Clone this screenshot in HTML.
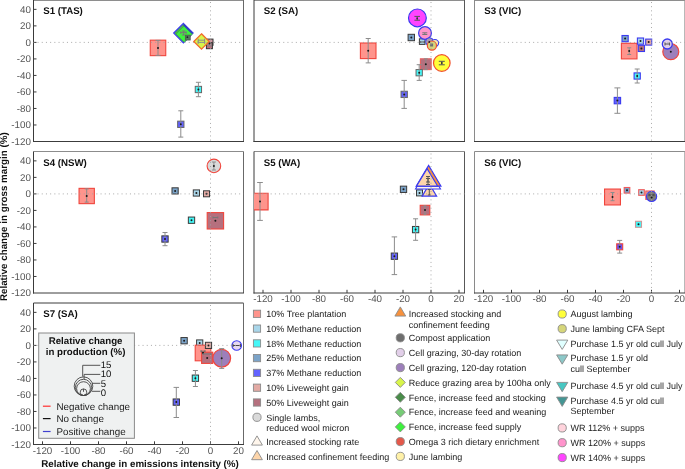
<!DOCTYPE html>
<html><head><meta charset="utf-8"><style>
html,body{margin:0;padding:0;background:#fff;}
body{width:685px;height:469px;overflow:hidden;}
svg{display:block;will-change:transform;}
text{font-family:"Liberation Sans",sans-serif;text-rendering:geometricPrecision;}
.tk{font-size:9.8px;fill:#555555;}
.ttl{font-size:9.7px;font-weight:bold;fill:#111;}
.lg{font-size:9px;fill:#222;}
.lgt{font-size:9.7px;font-weight:bold;fill:#111;}
.lgs{font-size:9.6px;fill:#111;}
.lgl{font-size:9.8px;fill:#222;}
.axl{font-size:9.8px;font-weight:bold;fill:#111;}
</style></head><body>
<svg width="685" height="469" viewBox="0 0 685 469">
<rect x="0" y="0" width="685" height="469" fill="#fff"/>
<line x1="33.50" y1="0.50" x2="243.50" y2="0.50" stroke="#8e8e8e" stroke-width="1"/>
<line x1="243.50" y1="0.00" x2="243.50" y2="141.50" stroke="#686868" stroke-width="1"/>
<line x1="33.50" y1="0.00" x2="33.50" y2="142.00" stroke="#3a3a3a" stroke-width="1"/>
<line x1="33.00" y1="141.50" x2="244.00" y2="141.50" stroke="#3c3c3c" stroke-width="1"/>
<line x1="33.50" y1="9.37" x2="36.50" y2="9.37" stroke="#3c3c3c" stroke-width="1"/>
<text x="30.90" y="12.57" class="tk" text-anchor="end">40</text>
<line x1="33.50" y1="25.88" x2="36.50" y2="25.88" stroke="#3c3c3c" stroke-width="1"/>
<text x="30.90" y="29.08" class="tk" text-anchor="end">20</text>
<line x1="33.50" y1="42.40" x2="36.50" y2="42.40" stroke="#3c3c3c" stroke-width="1"/>
<text x="30.90" y="45.60" class="tk" text-anchor="end">0</text>
<line x1="33.50" y1="58.92" x2="36.50" y2="58.92" stroke="#3c3c3c" stroke-width="1"/>
<text x="30.90" y="62.12" class="tk" text-anchor="end">-20</text>
<line x1="33.50" y1="75.43" x2="36.50" y2="75.43" stroke="#3c3c3c" stroke-width="1"/>
<text x="30.90" y="78.63" class="tk" text-anchor="end">-40</text>
<line x1="33.50" y1="91.95" x2="36.50" y2="91.95" stroke="#3c3c3c" stroke-width="1"/>
<text x="30.90" y="95.15" class="tk" text-anchor="end">-60</text>
<line x1="33.50" y1="108.46" x2="36.50" y2="108.46" stroke="#3c3c3c" stroke-width="1"/>
<text x="30.90" y="111.66" class="tk" text-anchor="end">-80</text>
<line x1="33.50" y1="124.98" x2="36.50" y2="124.98" stroke="#3c3c3c" stroke-width="1"/>
<text x="30.90" y="128.18" class="tk" text-anchor="end">-100</text>
<text x="30.90" y="144.70" class="tk" text-anchor="end">-120</text>
<text x="43.20" y="13.80" class="ttl">S1 (TAS)</text>
<line x1="254.00" y1="0.50" x2="464.50" y2="0.50" stroke="#8e8e8e" stroke-width="1"/>
<line x1="464.50" y1="0.00" x2="464.50" y2="141.50" stroke="#585858" stroke-width="1"/>
<line x1="254.00" y1="0.00" x2="254.00" y2="142.00" stroke="#3a3a3a" stroke-width="1"/>
<line x1="253.50" y1="141.50" x2="465.00" y2="141.50" stroke="#3c3c3c" stroke-width="1"/>
<text x="263.70" y="13.80" class="ttl">S2 (SA)</text>
<line x1="474.50" y1="0.50" x2="684.90" y2="0.50" stroke="#8e8e8e" stroke-width="1"/>
<line x1="684.90" y1="0.00" x2="684.90" y2="141.50" stroke="#8a8a8a" stroke-width="1"/>
<line x1="474.50" y1="0.00" x2="474.50" y2="142.00" stroke="#8a8a8a" stroke-width="1"/>
<line x1="474.00" y1="141.50" x2="685.40" y2="141.50" stroke="#3c3c3c" stroke-width="1"/>
<text x="484.20" y="13.80" class="ttl">S3 (VIC)</text>
<line x1="33.50" y1="151.50" x2="243.50" y2="151.50" stroke="#8c8c8c" stroke-width="1"/>
<line x1="243.50" y1="151.50" x2="243.50" y2="293.00" stroke="#686868" stroke-width="1"/>
<line x1="33.50" y1="151.50" x2="33.50" y2="293.50" stroke="#3a3a3a" stroke-width="1"/>
<line x1="33.00" y1="293.00" x2="244.00" y2="293.00" stroke="#3c3c3c" stroke-width="1"/>
<line x1="33.50" y1="160.87" x2="36.50" y2="160.87" stroke="#3c3c3c" stroke-width="1"/>
<text x="30.90" y="164.07" class="tk" text-anchor="end">40</text>
<line x1="33.50" y1="177.38" x2="36.50" y2="177.38" stroke="#3c3c3c" stroke-width="1"/>
<text x="30.90" y="180.58" class="tk" text-anchor="end">20</text>
<line x1="33.50" y1="193.90" x2="36.50" y2="193.90" stroke="#3c3c3c" stroke-width="1"/>
<text x="30.90" y="197.10" class="tk" text-anchor="end">0</text>
<line x1="33.50" y1="210.42" x2="36.50" y2="210.42" stroke="#3c3c3c" stroke-width="1"/>
<text x="30.90" y="213.62" class="tk" text-anchor="end">-20</text>
<line x1="33.50" y1="226.93" x2="36.50" y2="226.93" stroke="#3c3c3c" stroke-width="1"/>
<text x="30.90" y="230.13" class="tk" text-anchor="end">-40</text>
<line x1="33.50" y1="243.45" x2="36.50" y2="243.45" stroke="#3c3c3c" stroke-width="1"/>
<text x="30.90" y="246.65" class="tk" text-anchor="end">-60</text>
<line x1="33.50" y1="259.96" x2="36.50" y2="259.96" stroke="#3c3c3c" stroke-width="1"/>
<text x="30.90" y="263.16" class="tk" text-anchor="end">-80</text>
<line x1="33.50" y1="276.48" x2="36.50" y2="276.48" stroke="#3c3c3c" stroke-width="1"/>
<text x="30.90" y="279.68" class="tk" text-anchor="end">-100</text>
<text x="30.90" y="296.20" class="tk" text-anchor="end">-120</text>
<text x="43.20" y="165.70" class="ttl">S4 (NSW)</text>
<line x1="254.00" y1="151.50" x2="464.50" y2="151.50" stroke="#8c8c8c" stroke-width="1"/>
<line x1="464.50" y1="151.50" x2="464.50" y2="293.00" stroke="#585858" stroke-width="1"/>
<line x1="254.00" y1="151.50" x2="254.00" y2="293.50" stroke="#3a3a3a" stroke-width="1"/>
<line x1="253.50" y1="293.00" x2="465.00" y2="293.00" stroke="#3c3c3c" stroke-width="1"/>
<line x1="263.00" y1="293.00" x2="263.00" y2="289.80" stroke="#3c3c3c" stroke-width="1"/>
<text x="263.00" y="302.00" class="tk" text-anchor="middle">-120</text>
<line x1="291.00" y1="293.00" x2="291.00" y2="289.80" stroke="#3c3c3c" stroke-width="1"/>
<text x="291.00" y="302.00" class="tk" text-anchor="middle">-100</text>
<line x1="319.00" y1="293.00" x2="319.00" y2="289.80" stroke="#3c3c3c" stroke-width="1"/>
<text x="319.00" y="302.00" class="tk" text-anchor="middle">-80</text>
<line x1="347.00" y1="293.00" x2="347.00" y2="289.80" stroke="#3c3c3c" stroke-width="1"/>
<text x="347.00" y="302.00" class="tk" text-anchor="middle">-60</text>
<line x1="375.00" y1="293.00" x2="375.00" y2="289.80" stroke="#3c3c3c" stroke-width="1"/>
<text x="375.00" y="302.00" class="tk" text-anchor="middle">-40</text>
<line x1="403.00" y1="293.00" x2="403.00" y2="289.80" stroke="#3c3c3c" stroke-width="1"/>
<text x="403.00" y="302.00" class="tk" text-anchor="middle">-20</text>
<line x1="431.00" y1="293.00" x2="431.00" y2="289.80" stroke="#3c3c3c" stroke-width="1"/>
<text x="431.00" y="302.00" class="tk" text-anchor="middle">0</text>
<line x1="459.00" y1="293.00" x2="459.00" y2="289.80" stroke="#3c3c3c" stroke-width="1"/>
<text x="459.00" y="302.00" class="tk" text-anchor="middle">20</text>
<text x="263.70" y="165.70" class="ttl">S5 (WA)</text>
<line x1="474.50" y1="151.50" x2="684.90" y2="151.50" stroke="#8c8c8c" stroke-width="1"/>
<line x1="684.90" y1="151.50" x2="684.90" y2="293.00" stroke="#8a8a8a" stroke-width="1"/>
<line x1="474.50" y1="151.50" x2="474.50" y2="293.50" stroke="#8a8a8a" stroke-width="1"/>
<line x1="474.00" y1="293.00" x2="685.40" y2="293.00" stroke="#3c3c3c" stroke-width="1"/>
<line x1="483.50" y1="293.00" x2="483.50" y2="289.80" stroke="#3c3c3c" stroke-width="1"/>
<text x="483.50" y="302.00" class="tk" text-anchor="middle">-120</text>
<line x1="511.50" y1="293.00" x2="511.50" y2="289.80" stroke="#3c3c3c" stroke-width="1"/>
<text x="511.50" y="302.00" class="tk" text-anchor="middle">-100</text>
<line x1="539.50" y1="293.00" x2="539.50" y2="289.80" stroke="#3c3c3c" stroke-width="1"/>
<text x="539.50" y="302.00" class="tk" text-anchor="middle">-80</text>
<line x1="567.50" y1="293.00" x2="567.50" y2="289.80" stroke="#3c3c3c" stroke-width="1"/>
<text x="567.50" y="302.00" class="tk" text-anchor="middle">-60</text>
<line x1="595.50" y1="293.00" x2="595.50" y2="289.80" stroke="#3c3c3c" stroke-width="1"/>
<text x="595.50" y="302.00" class="tk" text-anchor="middle">-40</text>
<line x1="623.50" y1="293.00" x2="623.50" y2="289.80" stroke="#3c3c3c" stroke-width="1"/>
<text x="623.50" y="302.00" class="tk" text-anchor="middle">-20</text>
<line x1="651.50" y1="293.00" x2="651.50" y2="289.80" stroke="#3c3c3c" stroke-width="1"/>
<text x="651.50" y="302.00" class="tk" text-anchor="middle">0</text>
<line x1="679.50" y1="293.00" x2="679.50" y2="289.80" stroke="#3c3c3c" stroke-width="1"/>
<text x="679.50" y="302.00" class="tk" text-anchor="middle">20</text>
<text x="484.20" y="165.70" class="ttl">S6 (VIC)</text>
<line x1="33.50" y1="303.00" x2="243.50" y2="303.00" stroke="#3c3c3c" stroke-width="1"/>
<line x1="243.50" y1="303.00" x2="243.50" y2="444.50" stroke="#686868" stroke-width="1"/>
<line x1="33.50" y1="303.00" x2="33.50" y2="445.00" stroke="#3a3a3a" stroke-width="1"/>
<line x1="33.00" y1="444.50" x2="244.00" y2="444.50" stroke="#3c3c3c" stroke-width="1"/>
<line x1="33.50" y1="312.37" x2="36.50" y2="312.37" stroke="#3c3c3c" stroke-width="1"/>
<text x="30.90" y="315.57" class="tk" text-anchor="end">40</text>
<line x1="33.50" y1="328.88" x2="36.50" y2="328.88" stroke="#3c3c3c" stroke-width="1"/>
<text x="30.90" y="332.08" class="tk" text-anchor="end">20</text>
<line x1="33.50" y1="345.40" x2="36.50" y2="345.40" stroke="#3c3c3c" stroke-width="1"/>
<text x="30.90" y="348.60" class="tk" text-anchor="end">0</text>
<line x1="33.50" y1="361.92" x2="36.50" y2="361.92" stroke="#3c3c3c" stroke-width="1"/>
<text x="30.90" y="365.12" class="tk" text-anchor="end">-20</text>
<line x1="33.50" y1="378.43" x2="36.50" y2="378.43" stroke="#3c3c3c" stroke-width="1"/>
<text x="30.90" y="381.63" class="tk" text-anchor="end">-40</text>
<line x1="33.50" y1="394.95" x2="36.50" y2="394.95" stroke="#3c3c3c" stroke-width="1"/>
<text x="30.90" y="398.15" class="tk" text-anchor="end">-60</text>
<line x1="33.50" y1="411.46" x2="36.50" y2="411.46" stroke="#3c3c3c" stroke-width="1"/>
<text x="30.90" y="414.66" class="tk" text-anchor="end">-80</text>
<line x1="33.50" y1="427.98" x2="36.50" y2="427.98" stroke="#3c3c3c" stroke-width="1"/>
<text x="30.90" y="431.18" class="tk" text-anchor="end">-100</text>
<text x="30.90" y="447.70" class="tk" text-anchor="end">-120</text>
<line x1="42.50" y1="444.50" x2="42.50" y2="441.30" stroke="#3c3c3c" stroke-width="1"/>
<text x="42.50" y="453.50" class="tk" text-anchor="middle">-120</text>
<line x1="70.50" y1="444.50" x2="70.50" y2="441.30" stroke="#3c3c3c" stroke-width="1"/>
<text x="70.50" y="453.50" class="tk" text-anchor="middle">-100</text>
<line x1="98.50" y1="444.50" x2="98.50" y2="441.30" stroke="#3c3c3c" stroke-width="1"/>
<text x="98.50" y="453.50" class="tk" text-anchor="middle">-80</text>
<line x1="126.50" y1="444.50" x2="126.50" y2="441.30" stroke="#3c3c3c" stroke-width="1"/>
<text x="126.50" y="453.50" class="tk" text-anchor="middle">-60</text>
<line x1="154.50" y1="444.50" x2="154.50" y2="441.30" stroke="#3c3c3c" stroke-width="1"/>
<text x="154.50" y="453.50" class="tk" text-anchor="middle">-40</text>
<line x1="182.50" y1="444.50" x2="182.50" y2="441.30" stroke="#3c3c3c" stroke-width="1"/>
<text x="182.50" y="453.50" class="tk" text-anchor="middle">-20</text>
<line x1="210.50" y1="444.50" x2="210.50" y2="441.30" stroke="#3c3c3c" stroke-width="1"/>
<text x="210.50" y="453.50" class="tk" text-anchor="middle">0</text>
<line x1="238.50" y1="444.50" x2="238.50" y2="441.30" stroke="#3c3c3c" stroke-width="1"/>
<text x="238.50" y="453.50" class="tk" text-anchor="middle">20</text>
<text x="43.20" y="316.80" class="ttl">S7 (SA)</text>
<rect x="150.25" y="40.15" width="15.50" height="15.50" fill="#ff948c" stroke="#f0453c" stroke-width="1.1"/>
<path d="M183.40 23.40L193.10 33.10L183.40 42.80L173.70 33.10Z" fill="#4cb04c" stroke="#3a3af0" stroke-width="1.2"/>
<path d="M184.30 25.80L192.50 34.00L184.30 42.20L176.10 34.00Z" fill="#3ef03e" stroke="#3a9a4a" stroke-width="0.6"/>
<path d="M183.6 24.6L192.2 33.2" stroke="#2f3fc0" stroke-width="1.6" fill="none"/>
<rect x="185.40" y="35.20" width="4.80" height="4.80" fill="#4f7f5f" stroke="#555" stroke-width="0.9"/>
<rect x="206.80" y="39.10" width="6.20" height="6.20" fill="#d39aa4" stroke="#333" stroke-width="1.0"/>
<rect x="206.40" y="42.70" width="6.00" height="6.00" fill="#9a7a82" stroke="#333" stroke-width="1.0"/>
<path d="M207.2 47.6H211.6" stroke="#e06070" stroke-width="0.8"/>
<path d="M201.50 33.80L209.20 41.50L201.50 49.20L193.80 41.50Z" fill="#d8f54a" stroke="#f26a2c" stroke-width="1.3"/>
<rect x="195.25" y="86.35" width="6.30" height="6.30" fill="#45f7f7" stroke="#666" stroke-width="1.0"/>
<rect x="177.65" y="121.15" width="6.30" height="6.30" fill="#6262ff" stroke="#666" stroke-width="1.0"/>
<rect x="360.40" y="43.00" width="15.60" height="15.60" fill="#ff948c" stroke="#f0453c" stroke-width="1.1"/>
<circle cx="417.40" cy="17.90" r="8.90" fill="#ff44ff" stroke="#3a3af0" stroke-width="1.2"/>
<rect x="408.10" y="34.30" width="6.40" height="6.40" fill="#7ba3c8" stroke="#3a3a3a" stroke-width="1.0"/>
<rect x="419.40" y="38.80" width="5.60" height="5.60" fill="#a9d6ea" stroke="#3a3a3a" stroke-width="1.0"/>
<circle cx="425.00" cy="33.00" r="6.40" fill="#ff94cc" stroke="#3a3af0" stroke-width="1.2"/>
<circle cx="429.50" cy="41.60" r="3.90" fill="#a898b0" stroke="#3a3af0" stroke-width="1.0"/>
<circle cx="435.00" cy="43.10" r="3.60" fill="#fff1a8" stroke="#3a3af0" stroke-width="1.1"/>
<circle cx="431.90" cy="45.60" r="4.60" fill="#d6d67a" stroke="#f0502c" stroke-width="1.2"/>
<rect x="430.10" y="43.50" width="3.00" height="3.00" fill="#6f6f6f" stroke="none" stroke-width="0"/>
<rect x="420.40" y="58.80" width="10.80" height="10.80" fill="#b5707e" stroke="#e86060" stroke-width="1.1"/>
<circle cx="441.80" cy="63.00" r="8.30" fill="#ffff3a" stroke="#f0502c" stroke-width="1.2"/>
<rect x="416.05" y="69.55" width="6.30" height="6.30" fill="#45f7f7" stroke="#666" stroke-width="1.0"/>
<rect x="401.05" y="91.25" width="6.30" height="6.30" fill="#6262ff" stroke="#666" stroke-width="1.0"/>
<rect x="621.40" y="43.30" width="15.60" height="15.60" fill="#ff948c" stroke="#f0453c" stroke-width="1.1"/>
<rect x="622.00" y="35.50" width="6.20" height="6.20" fill="#7ba3c8" stroke="#3a3af0" stroke-width="1.1"/>
<rect x="637.40" y="38.00" width="6.20" height="6.20" fill="#a9d6ea" stroke="#3a3af0" stroke-width="1.1"/>
<rect x="645.70" y="39.10" width="6.00" height="6.00" fill="#e3aaa4" stroke="#3a3af0" stroke-width="1.1"/>
<rect x="638.30" y="45.30" width="6.20" height="6.20" fill="#b5707e" stroke="#3a3af0" stroke-width="1.1"/>
<circle cx="670.80" cy="51.70" r="8.00" fill="#9d7fbb" stroke="#f0453c" stroke-width="1.2"/>
<circle cx="667.30" cy="44.00" r="5.00" fill="#e2cfe9" stroke="#3a3af0" stroke-width="1.3"/>
<rect x="634.10" y="72.90" width="6.20" height="6.20" fill="#45f7f7" stroke="#3a3af0" stroke-width="1.1"/>
<rect x="614.20" y="97.40" width="6.40" height="6.40" fill="#6262ff" stroke="#3a3af0" stroke-width="1.1"/>
<rect x="79.05" y="188.35" width="15.30" height="15.30" fill="#ff948c" stroke="#f0453c" stroke-width="1.1"/>
<circle cx="213.90" cy="165.90" r="6.80" fill="#d9d9d9" stroke="#f0453c" stroke-width="1.1"/>
<rect x="172.00" y="187.80" width="6.20" height="6.20" fill="#7ba3c8" stroke="#3a3a3a" stroke-width="1.0"/>
<rect x="193.30" y="189.90" width="6.20" height="6.20" fill="#a9d6ea" stroke="#3a3a3a" stroke-width="1.0"/>
<rect x="203.50" y="190.80" width="6.00" height="6.00" fill="#e3aaa4" stroke="#3a3a3a" stroke-width="1.0"/>
<rect x="188.35" y="217.05" width="6.30" height="6.30" fill="#45f7f7" stroke="#3a3a3a" stroke-width="1.0"/>
<rect x="207.20" y="212.60" width="16.40" height="16.40" fill="#b5707e" stroke="#f0453c" stroke-width="1.1"/>
<rect x="161.85" y="235.85" width="6.30" height="6.30" fill="#6262ff" stroke="#3a3a3a" stroke-width="1.0"/>
<rect x="254.0" y="193.3" width="14.1" height="16.6" fill="#ff948c"/>
<path d="M254.0 193.3H268.1V209.9H254.0" fill="none" stroke="#f0453c" stroke-width="1.1"/>
<rect x="400.35" y="186.15" width="6.30" height="6.30" fill="#7ba3c8" stroke="#3a3a3a" stroke-width="1.0"/>
<rect x="416.50" y="189.90" width="6.00" height="6.00" fill="#a9d6ea" stroke="#3a3a3a" stroke-width="1.0"/>
<path d="M429.40 184.00L436.60 196.10L422.20 196.10Z" fill="#fdd5aa" stroke="#3a3af0" stroke-width="1.2"/>
<path d="M428.00 168.00L440.50 189.00L415.50 189.00Z" fill="#fff6ec" stroke="#3a3af0" stroke-width="1.1"/>
<path d="M428.60 165.40L441.00 186.10L416.20 186.10Z" fill="#f7913d" stroke="#3a3af0" stroke-width="1.1"/>
<path d="M427.10 168.60L437.70 186.10L416.50 186.10Z" fill="#fdd5aa" stroke="#3a3af0" stroke-width="1.1"/>
<rect x="420.20" y="205.30" width="9.60" height="9.60" fill="#b5707e" stroke="#f0453c" stroke-width="1.1"/>
<rect x="412.45" y="226.45" width="6.30" height="6.30" fill="#45f7f7" stroke="#3a3a3a" stroke-width="1.0"/>
<rect x="391.25" y="253.05" width="6.30" height="6.30" fill="#6262ff" stroke="#3a3a3a" stroke-width="1.0"/>
<rect x="604.55" y="189.05" width="15.90" height="15.90" fill="#ff948c" stroke="#f0453c" stroke-width="1.1"/>
<rect x="624.20" y="187.50" width="5.60" height="5.60" fill="#7ba3c8" stroke="#f05a5a" stroke-width="1.1"/>
<rect x="638.70" y="189.70" width="5.60" height="5.60" fill="#a9d6ea" stroke="#f05a5a" stroke-width="1.1"/>
<rect x="645.80" y="191.00" width="8.40" height="8.40" fill="#e3aaa4" stroke="#f05a5a" stroke-width="1.1"/>
<circle cx="651.60" cy="196.40" r="5.10" fill="#7d7d7d" stroke="#3a3af0" stroke-width="1.1"/>
<rect x="635.50" y="221.30" width="6.00" height="6.00" fill="#45f7f7" stroke="#cc9999" stroke-width="1.1"/>
<rect x="616.70" y="243.80" width="6.00" height="6.00" fill="#6a50f0" stroke="#f0453c" stroke-width="1.1"/>
<rect x="180.95" y="337.55" width="6.30" height="6.30" fill="#7ba3c8" stroke="#3a3a3a" stroke-width="1.0"/>
<rect x="196.60" y="339.90" width="6.20" height="6.20" fill="#a9d6ea" stroke="#3a3a3a" stroke-width="1.0"/>
<rect x="195.20" y="345.20" width="15.60" height="15.60" fill="#ff948c" stroke="#f0453c" stroke-width="1.1"/>
<rect x="205.40" y="342.30" width="6.20" height="6.20" fill="#e3aaa4" stroke="#3a3a3a" stroke-width="1.0"/>
<rect x="201.60" y="352.20" width="11.20" height="11.20" fill="#b5707e" stroke="#f0453c" stroke-width="1.1"/>
<circle cx="221.70" cy="358.20" r="8.90" fill="#9d7fbb" stroke="#f0453c" stroke-width="1.2"/>
<circle cx="236.70" cy="345.50" r="4.80" fill="#e6d8ef" stroke="#3a3af0" stroke-width="1.1"/>
<rect x="192.25" y="375.05" width="6.30" height="6.30" fill="#45f7f7" stroke="#3a3a3a" stroke-width="1.0"/>
<rect x="173.15" y="398.95" width="6.30" height="6.30" fill="#6262ff" stroke="#3a3a3a" stroke-width="1.0"/>
<path d="M158.00 40.40V55.40M155.50 40.40h5.00M155.50 55.40h5.00" stroke="#8c8c8c" stroke-width="1.0" fill="none"/>
<circle cx="158.00" cy="48.00" r="1.0" fill="#1a1a1a"/>
<path d="M180.80 32.60H186.20M180.80 31.35v2.50M186.20 31.35v2.50" stroke="#777" stroke-width="1.0" fill="none"/>
<path d="M183.60 31.00V35.00M181.85 31.00h3.50M181.85 35.00h3.50" stroke="#777" stroke-width="1.0" fill="none"/>
<circle cx="187.40" cy="37.20" r="0.9" fill="#222"/>
<circle cx="209.60" cy="43.60" r="0.9" fill="#222"/>
<path d="M198.20 40.20H204.60M198.20 38.70v3.00M204.60 38.70v3.00" stroke="#8c8c8c" stroke-width="1.0" fill="none"/>
<path d="M198.20 42.40H204.60M198.20 40.90v3.00M204.60 40.90v3.00" stroke="#8c8c8c" stroke-width="1.0" fill="none"/>
<path d="M198.40 82.30V96.70M195.90 82.30h5.00M195.90 96.70h5.00" stroke="#8c8c8c" stroke-width="1.0" fill="none"/>
<circle cx="198.40" cy="89.50" r="1.0" fill="#1a1a1a"/>
<path d="M180.80 110.80V137.10M178.30 110.80h5.00M178.30 137.10h5.00" stroke="#8c8c8c" stroke-width="1.0" fill="none"/>
<circle cx="180.80" cy="124.30" r="1.0" fill="#1a1a1a"/>
<path d="M368.20 38.50V62.90M365.70 38.50h5.00M365.70 62.90h5.00" stroke="#8c8c8c" stroke-width="1.0" fill="none"/>
<circle cx="368.20" cy="50.80" r="1.0" fill="#1a1a1a"/>
<path d="M417.20 16.40V20.20M414.40 16.40h5.60M414.40 20.20h5.60" stroke="#555" stroke-width="1.0" fill="none"/>
<circle cx="417.20" cy="18.30" r="0.9" fill="#333"/>
<circle cx="411.30" cy="37.50" r="1.0" fill="#1a1a1a"/>
<path d="M420.00 42.00H424.40M420.00 41.00v2.00M424.40 41.00v2.00" stroke="#555" stroke-width="1.0" fill="none"/>
<path d="M424.80 32.80V34.50M422.30 32.80h5.00M422.30 34.50h5.00" stroke="#777" stroke-width="1.0" fill="none"/>
<circle cx="429.30" cy="42.00" r="0.9" fill="#222"/>
<path d="M425.80 58.80V69.60M423.80 58.80h4.00M423.80 69.60h4.00" stroke="#8c8c8c" stroke-width="1.0" fill="none"/>
<circle cx="425.80" cy="64.30" r="1.0" fill="#1a1a1a"/>
<path d="M441.80 61.30V64.80M438.80 61.30h6.00M438.80 64.80h6.00" stroke="#555" stroke-width="1.0" fill="none"/>
<circle cx="441.80" cy="63.00" r="0.9" fill="#333"/>
<path d="M419.20 64.70V80.40M416.70 64.70h5.00M416.70 80.40h5.00" stroke="#8c8c8c" stroke-width="1.0" fill="none"/>
<circle cx="419.20" cy="72.70" r="1.0" fill="#1a1a1a"/>
<path d="M404.20 80.40V108.40M401.45 80.40h5.50M401.45 108.40h5.50" stroke="#8c8c8c" stroke-width="1.0" fill="none"/>
<circle cx="404.20" cy="94.40" r="1.0" fill="#1a1a1a"/>
<path d="M629.20 47.80V54.50M627.20 47.80h4.00M627.20 54.50h4.00" stroke="#8c8c8c" stroke-width="1.0" fill="none"/>
<circle cx="629.20" cy="51.10" r="1.0" fill="#1a1a1a"/>
<circle cx="625.10" cy="38.60" r="1.0" fill="#1a1a1a"/>
<circle cx="640.50" cy="41.10" r="1.0" fill="#1a1a1a"/>
<circle cx="648.70" cy="42.10" r="1.0" fill="#1a1a1a"/>
<circle cx="641.40" cy="48.40" r="1.0" fill="#1a1a1a"/>
<circle cx="670.80" cy="51.70" r="1.0" fill="#1a1a1a"/>
<path d="M665.00 44.00H669.60M665.00 42.50v3.00M669.60 42.50v3.00" stroke="#555" stroke-width="1.0" fill="none"/>
<path d="M637.20 69.00V83.00M634.70 69.00h5.00M634.70 83.00h5.00" stroke="#8c8c8c" stroke-width="1.0" fill="none"/>
<circle cx="637.20" cy="76.00" r="1.0" fill="#1a1a1a"/>
<path d="M617.40 87.90V113.30M614.40 87.90h6.00M614.40 113.30h6.00" stroke="#8c8c8c" stroke-width="1.0" fill="none"/>
<circle cx="617.40" cy="100.60" r="1.0" fill="#1a1a1a"/>
<path d="M86.70 188.90V202.10M84.70 188.90h4.00M84.70 202.10h4.00" stroke="#8c8c8c" stroke-width="1.0" fill="none"/>
<circle cx="86.70" cy="196.00" r="1.0" fill="#1a1a1a"/>
<path d="M213.90 162.00V170.00M211.90 162.00h4.00M211.90 170.00h4.00" stroke="#8c8c8c" stroke-width="1.0" fill="none"/>
<circle cx="213.90" cy="166.00" r="1.0" fill="#1a1a1a"/>
<circle cx="175.10" cy="190.90" r="1.0" fill="#1a1a1a"/>
<circle cx="196.40" cy="193.00" r="1.0" fill="#1a1a1a"/>
<circle cx="206.50" cy="193.80" r="1.0" fill="#1a1a1a"/>
<circle cx="191.50" cy="220.20" r="1.0" fill="#1a1a1a"/>
<path d="M213.00 217.50H217.80M213.00 216.50v2.00M217.80 216.50v2.00" stroke="#777" stroke-width="1.0" fill="none"/>
<circle cx="215.40" cy="220.80" r="1.0" fill="#1a1a1a"/>
<path d="M165.00 232.50V245.70M162.50 232.50h5.00M162.50 245.70h5.00" stroke="#8c8c8c" stroke-width="1.0" fill="none"/>
<circle cx="165.00" cy="239.00" r="1.0" fill="#1a1a1a"/>
<path d="M260.00 182.50V220.40M257.15 182.50h5.70M257.15 220.40h5.70" stroke="#8c8c8c" stroke-width="1.0" fill="none"/>
<circle cx="260.00" cy="201.60" r="1.0" fill="#1a1a1a"/>
<circle cx="403.50" cy="189.30" r="1.0" fill="#1a1a1a"/>
<circle cx="419.50" cy="192.90" r="1.0" fill="#1a1a1a"/>
<path d="M429.30 189.50V195.00M427.80 189.50h3.00M427.80 195.00h3.00" stroke="#555" stroke-width="1.0" fill="none"/>
<path d="M428.00 176.50V184.50M426.00 176.50h4.00M426.00 184.50h4.00" stroke="#555" stroke-width="1.0" fill="none"/>
<path d="M428.00 178.50V182.00M426.00 178.50h4.00M426.00 182.00h4.00" stroke="#555" stroke-width="1.0" fill="none"/>
<path d="M425.00 205.80V214.40M423.50 205.80h3.00M423.50 214.40h3.00" stroke="#8c8c8c" stroke-width="1.0" fill="none"/>
<circle cx="425.00" cy="210.10" r="1.0" fill="#1a1a1a"/>
<path d="M415.60 218.80V240.30M413.10 218.80h5.00M413.10 240.30h5.00" stroke="#8c8c8c" stroke-width="1.0" fill="none"/>
<circle cx="415.60" cy="229.60" r="1.0" fill="#1a1a1a"/>
<path d="M394.40 236.90V274.60M391.65 236.90h5.50M391.65 274.60h5.50" stroke="#8c8c8c" stroke-width="1.0" fill="none"/>
<circle cx="394.40" cy="256.20" r="1.0" fill="#1a1a1a"/>
<path d="M612.50 192.50V200.70M610.50 192.50h4.00M610.50 200.70h4.00" stroke="#8c8c8c" stroke-width="1.0" fill="none"/>
<circle cx="612.50" cy="197.00" r="1.0" fill="#1a1a1a"/>
<circle cx="627.00" cy="190.30" r="1.0" fill="#1a1a1a"/>
<circle cx="641.50" cy="192.50" r="1.0" fill="#1a1a1a"/>
<path d="M649.00 195.00H654.00M649.00 193.75v2.50M654.00 193.75v2.50" stroke="#444" stroke-width="1.0" fill="none"/>
<circle cx="651.60" cy="197.60" r="1.0" fill="#1a1a1a"/>
<circle cx="638.50" cy="224.30" r="1.0" fill="#1a1a1a"/>
<path d="M619.70 240.40V253.10M617.20 240.40h5.00M617.20 253.10h5.00" stroke="#8c8c8c" stroke-width="1.0" fill="none"/>
<circle cx="619.70" cy="246.80" r="1.0" fill="#1a1a1a"/>
<circle cx="184.10" cy="340.70" r="1.0" fill="#1a1a1a"/>
<circle cx="199.70" cy="343.00" r="1.0" fill="#1a1a1a"/>
<circle cx="203.00" cy="353.00" r="1.0" fill="#1a1a1a"/>
<circle cx="208.50" cy="345.40" r="1.0" fill="#1a1a1a"/>
<path d="M201.00 351.20H205.00M201.00 350.20v2.00M205.00 350.20v2.00" stroke="#666" stroke-width="1.0" fill="none"/>
<circle cx="203.00" cy="353.00" r="1.0" fill="#1a1a1a"/>
<path d="M203.00 354.00H211.00M203.00 353.00v2.00M211.00 353.00v2.00" stroke="#777" stroke-width="1.0" fill="none"/>
<circle cx="207.20" cy="357.90" r="1.0" fill="#1a1a1a"/>
<path d="M221.70 348.60V368.40M219.20 348.60h5.00M219.20 368.40h5.00" stroke="#8c8c8c" stroke-width="1.0" fill="none"/>
<circle cx="221.70" cy="358.20" r="1.0" fill="#1a1a1a"/>
<path d="M233.00 345.50H240.40M233.00 344.00v3.00M240.40 344.00v3.00" stroke="#444" stroke-width="1.0" fill="none"/>
<path d="M195.40 370.50V386.50M192.90 370.50h5.00M192.90 386.50h5.00" stroke="#8c8c8c" stroke-width="1.0" fill="none"/>
<circle cx="195.40" cy="378.20" r="1.0" fill="#1a1a1a"/>
<path d="M176.30 387.40V417.50M173.55 387.40h5.50M173.55 417.50h5.50" stroke="#8c8c8c" stroke-width="1.0" fill="none"/>
<circle cx="176.30" cy="402.10" r="1.0" fill="#1a1a1a"/>
<line x1="33.50" y1="42.40" x2="243.50" y2="42.40" stroke="#a2a2a2" stroke-width="0.9" stroke-dasharray="1 3.2" stroke-dashoffset="0.15"/>
<line x1="210.50" y1="0.00" x2="210.50" y2="141.50" stroke="#a2a2a2" stroke-width="0.9" stroke-dasharray="1 3.17" stroke-dashoffset="2.17"/>
<line x1="254.00" y1="42.40" x2="464.50" y2="42.40" stroke="#a2a2a2" stroke-width="0.9" stroke-dasharray="1 3.2" stroke-dashoffset="0.15"/>
<line x1="431.00" y1="0.00" x2="431.00" y2="141.50" stroke="#a2a2a2" stroke-width="0.9" stroke-dasharray="1 3.17" stroke-dashoffset="2.17"/>
<line x1="474.50" y1="42.40" x2="684.90" y2="42.40" stroke="#a2a2a2" stroke-width="0.9" stroke-dasharray="1 3.2" stroke-dashoffset="0.15"/>
<line x1="651.50" y1="0.00" x2="651.50" y2="141.50" stroke="#a2a2a2" stroke-width="0.9" stroke-dasharray="1 3.17" stroke-dashoffset="2.17"/>
<line x1="33.50" y1="193.90" x2="243.50" y2="193.90" stroke="#a2a2a2" stroke-width="0.9" stroke-dasharray="1 3.2" stroke-dashoffset="0.15"/>
<line x1="210.50" y1="151.50" x2="210.50" y2="293.00" stroke="#a2a2a2" stroke-width="0.9" stroke-dasharray="1 3.17" stroke-dashoffset="2.17"/>
<line x1="254.00" y1="193.90" x2="464.50" y2="193.90" stroke="#a2a2a2" stroke-width="0.9" stroke-dasharray="1 3.2" stroke-dashoffset="0.15"/>
<line x1="431.00" y1="151.50" x2="431.00" y2="293.00" stroke="#a2a2a2" stroke-width="0.9" stroke-dasharray="1 3.17" stroke-dashoffset="2.17"/>
<line x1="474.50" y1="193.90" x2="684.90" y2="193.90" stroke="#a2a2a2" stroke-width="0.9" stroke-dasharray="1 3.2" stroke-dashoffset="0.15"/>
<line x1="651.50" y1="151.50" x2="651.50" y2="293.00" stroke="#a2a2a2" stroke-width="0.9" stroke-dasharray="1 3.17" stroke-dashoffset="2.17"/>
<line x1="33.50" y1="345.40" x2="243.50" y2="345.40" stroke="#a2a2a2" stroke-width="0.9" stroke-dasharray="1 3.2" stroke-dashoffset="0.15"/>
<line x1="210.50" y1="303.00" x2="210.50" y2="444.50" stroke="#a2a2a2" stroke-width="0.9" stroke-dasharray="1 3.17" stroke-dashoffset="2.17"/>
<rect x="38.7" y="333.0" width="95.7" height="105.3" fill="#eff1f1" stroke="#8a8a8a" stroke-width="1"/>
<text x="85.6" y="344.0" class="lgt" text-anchor="middle">Relative change</text>
<text x="85.6" y="355.0" class="lgt" text-anchor="middle">in production (%)</text>
<circle cx="83.5" cy="386.20" r="9.3" fill="none" stroke="#444" stroke-width="0.9"/>
<circle cx="83.5" cy="387.40" r="8.1" fill="none" stroke="#444" stroke-width="0.9"/>
<circle cx="83.5" cy="388.60" r="6.9" fill="none" stroke="#444" stroke-width="0.9"/>
<circle cx="83.5" cy="392.20" r="3.3" fill="none" stroke="#444" stroke-width="0.9"/>
<path d="M82.7 376.6V365.3H100.3M84.1 379.0V374.4H100.3M91.9 383.3H100.3M92.0 391.3H100.3M83.5 388.9V391.8" stroke="#444" stroke-width="0.9" fill="none"/>
<text x="100.7" y="367.6" class="lgs">15</text>
<text x="100.7" y="377.0" class="lgs">10</text>
<text x="100.7" y="386.8" class="lgs">5</text>
<text x="100.7" y="395.8" class="lgs">0</text>
<line x1="42.9" y1="406.2" x2="50.6" y2="406.2" stroke="#ff3030" stroke-width="1.2"/>
<text x="56.5" y="409.6" class="lgl">Negative change</text>
<line x1="42.9" y1="418.6" x2="50.6" y2="418.6" stroke="#111" stroke-width="1.2"/>
<text x="56.5" y="422.0" class="lgl">No change</text>
<line x1="42.9" y1="431.5" x2="50.6" y2="431.5" stroke="#4040d0" stroke-width="1.2"/>
<text x="56.5" y="434.9" class="lgl">Positive change</text>
<text x="140.05" y="466.8" class="axl" text-anchor="middle">Relative change in emissions intensity (%)</text>
<text transform="translate(6.8,216.7) rotate(-90)" x="0" y="0" class="axl" text-anchor="middle">Relative change in gross margin (%)</text>
<rect x="253.40" y="310.20" width="7.2" height="7.2" fill="#ff948c" stroke="#8a8a8a" stroke-width="0.9"/>
<text x="266.30" y="317.00" class="lg">10% Tree plantation</text>
<rect x="253.40" y="325.00" width="7.2" height="7.2" fill="#a9d6ea" stroke="#8a8a8a" stroke-width="0.9"/>
<text x="266.30" y="331.80" class="lg">10% Methane reduction</text>
<rect x="253.40" y="339.80" width="7.2" height="7.2" fill="#45f7f7" stroke="#8a8a8a" stroke-width="0.9"/>
<text x="266.30" y="346.60" class="lg">18% Methane reduction</text>
<rect x="253.40" y="354.50" width="7.2" height="7.2" fill="#7ba3c8" stroke="#8a8a8a" stroke-width="0.9"/>
<text x="266.30" y="361.30" class="lg">25% Methane reduction</text>
<rect x="253.40" y="369.30" width="7.2" height="7.2" fill="#6262ff" stroke="#8a8a8a" stroke-width="0.9"/>
<text x="266.30" y="376.10" class="lg">37% Methane reduction</text>
<rect x="253.40" y="384.10" width="7.2" height="7.2" fill="#e3aaa4" stroke="#8a8a8a" stroke-width="0.9"/>
<text x="266.30" y="390.90" class="lg">10% Liveweight gain</text>
<rect x="253.40" y="398.90" width="7.2" height="7.2" fill="#b5707e" stroke="#8a8a8a" stroke-width="0.9"/>
<text x="266.30" y="405.70" class="lg">50% Liveweight gain</text>
<circle cx="257.00" cy="417.30" r="4.1" fill="#d9d9d9" stroke="#8a8a8a" stroke-width="0.9"/>
<text x="266.30" y="420.50" class="lg">Single lambs,</text>
<text x="266.30" y="431.20" class="lg">reduced wool micron</text>
<path d="M257.00 435.90L262.40 445.10L251.60 445.10Z" fill="#fff6ec" stroke="#8a8a8a" stroke-width="0.9"/>
<text x="266.30" y="445.20" class="lg">Increased stocking rate</text>
<path d="M257.00 450.50L262.40 459.70L251.60 459.70Z" fill="#fdd5aa" stroke="#8a8a8a" stroke-width="0.9"/>
<text x="266.30" y="459.80" class="lg">Increased confinement feeding</text>
<path d="M400.30 306.90L405.70 316.10L394.90 316.10Z" fill="#f7913d" stroke="#8a8a8a" stroke-width="0.9"/>
<text x="408.70" y="317.00" class="lg">Increased stocking and</text>
<text x="408.70" y="328.20" class="lg">confinement feeding</text>
<circle cx="400.30" cy="337.80" r="4.1" fill="#6e6e6e" stroke="#8a8a8a" stroke-width="0.9"/>
<text x="408.70" y="341.00" class="lg">Compost application</text>
<circle cx="400.30" cy="352.60" r="4.1" fill="#e2cfe9" stroke="#8a8a8a" stroke-width="0.9"/>
<text x="408.70" y="355.80" class="lg">Cell grazing, 30-day rotation</text>
<circle cx="400.30" cy="367.60" r="4.1" fill="#9d7fbb" stroke="#8a8a8a" stroke-width="0.9"/>
<text x="408.70" y="370.80" class="lg">Cell grazing, 120-day rotation</text>
<path d="M400.30 377.40L405.30 382.40L400.30 387.40L395.30 382.40Z" fill="#d8f54a" stroke="#8a8a8a" stroke-width="0.9"/>
<text x="408.70" y="385.60" class="lg">Reduce grazing area by 100ha only</text>
<path d="M400.30 392.30L405.30 397.30L400.30 402.30L395.30 397.30Z" fill="#4a8c4a" stroke="#8a8a8a" stroke-width="0.9"/>
<text x="408.70" y="400.50" class="lg">Fence, increase feed and stocking</text>
<path d="M400.30 407.20L405.30 412.20L400.30 417.20L395.30 412.20Z" fill="#77cc77" stroke="#8a8a8a" stroke-width="0.9"/>
<text x="408.70" y="415.40" class="lg">Fence, increase feed and weaning</text>
<path d="M400.30 421.90L405.30 426.90L400.30 431.90L395.30 426.90Z" fill="#3ef03e" stroke="#8a8a8a" stroke-width="0.9"/>
<text x="408.70" y="430.10" class="lg">Fence, increase feed supply</text>
<circle cx="400.30" cy="441.60" r="4.1" fill="#e4584a" stroke="#8a8a8a" stroke-width="0.9"/>
<text x="408.70" y="444.80" class="lg">Omega 3 rich dietary enrichment</text>
<circle cx="400.30" cy="456.40" r="4.1" fill="#fff1a8" stroke="#8a8a8a" stroke-width="0.9"/>
<text x="408.70" y="459.60" class="lg">June lambing</text>
<circle cx="562.20" cy="314.00" r="4.1" fill="#ffff3a" stroke="#8a8a8a" stroke-width="0.9"/>
<text x="570.50" y="317.20" class="lg">August lambing</text>
<circle cx="562.20" cy="328.70" r="4.1" fill="#d6d67a" stroke="#8a8a8a" stroke-width="0.9"/>
<text x="570.50" y="331.90" class="lg">June lambing CFA Sept</text>
<path d="M556.60 340.10L567.80 340.10L562.20 349.40Z" fill="#e0ffff" stroke="#8a8a8a" stroke-width="0.9"/>
<text x="570.50" y="346.60" class="lg">Purchase 1.5 yr old cull July</text>
<path d="M556.60 354.90L567.80 354.90L562.20 364.20Z" fill="#8cc8c8" stroke="#8a8a8a" stroke-width="0.9"/>
<text x="570.50" y="361.40" class="lg">Purchase 1.5 yr old</text>
<text x="570.50" y="372.10" class="lg">cull September</text>
<path d="M556.60 382.40L567.80 382.40L562.20 391.70Z" fill="#47c7c2" stroke="#8a8a8a" stroke-width="0.9"/>
<text x="570.50" y="388.90" class="lg">Purchase 4.5 yr old cull July</text>
<path d="M556.60 397.10L567.80 397.10L562.20 406.40Z" fill="#449694" stroke="#8a8a8a" stroke-width="0.9"/>
<text x="570.50" y="403.60" class="lg">Purchase 4.5 yr old cull</text>
<text x="570.50" y="414.30" class="lg">September</text>
<circle cx="562.20" cy="427.90" r="4.1" fill="#ffd3dc" stroke="#8a8a8a" stroke-width="0.9"/>
<text x="570.50" y="431.10" class="lg">WR 112% + supps</text>
<circle cx="562.20" cy="442.70" r="4.1" fill="#ff94cc" stroke="#8a8a8a" stroke-width="0.9"/>
<text x="570.50" y="445.90" class="lg">WR 120% + supps</text>
<circle cx="562.20" cy="457.60" r="4.1" fill="#ff44ff" stroke="#8a8a8a" stroke-width="0.9"/>
<text x="570.50" y="460.80" class="lg">WR 140% + supps</text>
</svg>
</body></html>
